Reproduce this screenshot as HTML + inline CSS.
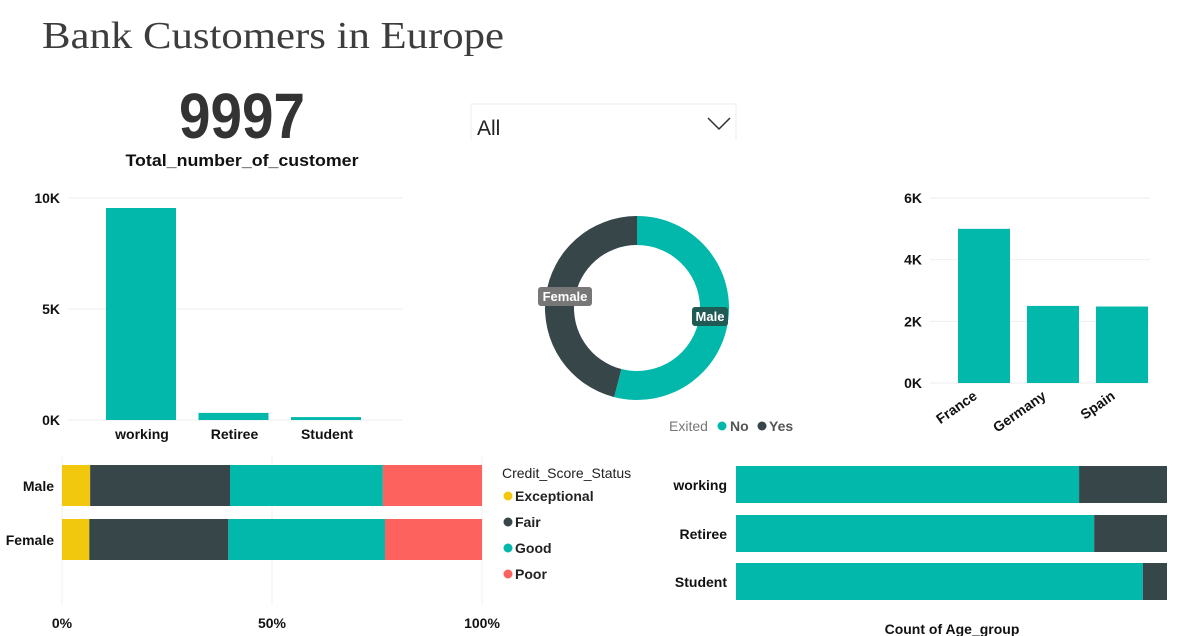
<!DOCTYPE html>
<html><head><meta charset="utf-8"><style>
html,body{margin:0;padding:0;background:#fff;width:1177px;height:636px;overflow:hidden}
svg{display:block;font-family:"Liberation Sans",sans-serif}
.ax{font-size:14px;font-weight:bold;fill:#111}
</style></head><body>
<svg id="s" width="1177" height="636" viewBox="0 0 1177 636">
<text x="42" y="48" font-family="Liberation Serif" font-size="38" fill="#3d3d3d" textLength="462" lengthAdjust="spacingAndGlyphs">Bank Customers in Europe</text>
<text x="242" y="138" text-anchor="middle" font-size="64" font-weight="bold" fill="#333" textLength="126" lengthAdjust="spacingAndGlyphs">9997</text>
<text x="242" y="166" text-anchor="middle" font-size="17" font-weight="bold" fill="#111" textLength="233" lengthAdjust="spacingAndGlyphs">Total_number_of_customer</text>
<g>
<path d="M471 140 V104 H736 V140" fill="none" stroke="#eee" stroke-width="1"/>
<text x="477" y="135" font-size="21" fill="#222">All</text>
<path d="M708 118 L719 129 L730 118" fill="none" stroke="#333" stroke-width="1.5"/>
</g>
<g id="c1"></g>
<g id="c2"></g>
<g id="c3"></g>
<g id="c4"></g>
<g id="c5"></g>
</svg>
<script>
const ageCats=["working","Retiree","Student"];
const ageCounts=[9550,320,130];
const ageTicks=["0K","5K","10K"];
const ageTickVals=[0,5000,10000];
const genders=["Male","Female"];
const genderShare=[54,46];
const countries=["France","Germany","Spain"];
const countryCounts=[5000,2500,2480];
const countryTickVals=[0,2000,4000,6000];
const countryTicks=["0K","2K","4K","6K"];
const creditGenders=["Male","Female"];
const creditStatuses=["Exceptional","Fair","Good","Poor"];
const creditMale=[6.7,33.3,36.4,23.6];
const creditFemale=[6.5,33.1,37.3,23.1];
const pctTicks=["0%","50%","100%"];
const pctTickVals=[0,50,100];
const exitAgeCats=["working","Retiree","Student"];
const exitNo=[79.6,83.1,94.4];
const exitYes=[20.4,16.9,5.6];
const TEAL="#01b8aa",DARK="#374649",YEL="#f2c80f",RED="#fd625e";
const NS="http://www.w3.org/2000/svg";
function mk(p,tag,a,txt){const e=document.createElementNS(NS,tag);for(const k in a)e.setAttribute(k,a[k]);if(txt!==undefined)e.textContent=txt;p.appendChild(e);return e;}

// chart 1
(function(){const g=document.getElementById('c1');
const y=v=>420-v/10000*222;const bx=i=>106+i*92.5;
ageTickVals.forEach((v,i)=>{
const l=mk(g,'line',{x1:68,x2:402,y1:y(v),y2:y(v),stroke:'#eee'});


const t=mk(g,'text',{x:60,y:y(v)+5,'text-anchor':'end',class:'ax'},ageTicks[i]);

});
ageCats.forEach((c,i)=>{
const r=mk(g,'rect',{x:bx(i),y:y(ageCounts[i]),width:70,height:420-y(ageCounts[i]),fill:TEAL});


const t=mk(g,'text',{x:bx(i)+36,y:439,'text-anchor':'middle',class:'ax'},c);

});
})();

// donut
(function(){const g=document.getElementById('c2');const cx=637,cy=308,R=92,r=63;
let a0=0;const cols=[TEAL,DARK];
genderShare.forEach((v,i)=>{const a1=a0+v/100*2*Math.PI;
const p=(rad,a)=>[cx+rad*Math.sin(a),cy-rad*Math.cos(a)];
const [x1,y1]=p(R,a0),[x2,y2]=p(R,a1),[x3,y3]=p(r,a1),[x4,y4]=p(r,a0);const lg=(a1-a0)>Math.PI?1:0;
const s=mk(g,'path',{d:`M${x1} ${y1} A${R} ${R} 0 ${lg} 1 ${x2} ${y2} L${x3} ${y3} A${r} ${r} 0 ${lg} 0 ${x4} ${y4}Z`,fill:cols[i]});


a0=a1;});
const lb=mk(g,'g',{});


mk(lb,'rect',{x:538,y:287,width:54,height:19,rx:3,fill:'#777'});
mk(lb,'text',{x:565,y:301,'text-anchor':'middle','font-size':13,'font-weight':'bold',fill:'#fff'},'Female');
const lm=mk(g,'g',{});


mk(lm,'rect',{x:692,y:307,width:36,height:19,rx:3,fill:'#1f5a55'});
mk(lm,'text',{x:710,y:321,'text-anchor':'middle','font-size':13,'font-weight':'bold',fill:'#fff'},'Male');
const lg=mk(g,'g',{'font-size':14});


mk(lg,'text',{x:669,y:431,fill:'#777'},'Exited');
mk(lg,'circle',{cx:722,cy:426,r:4.5,fill:TEAL});
mk(lg,'text',{x:730,y:431,fill:'#555','font-weight':'bold'},'No');
mk(lg,'circle',{cx:762,cy:426,r:4.5,fill:DARK});
mk(lg,'text',{x:769,y:431,fill:'#555','font-weight':'bold'},'Yes');
})();

// country chart
(function(){const g=document.getElementById('c3');
const y=v=>383-v/6000*185;const bx=i=>958+i*69;
countryTickVals.forEach((v,i)=>{
const l=mk(g,'line',{x1:930,x2:1150,y1:y(v),y2:y(v),stroke:'#eee'});


const t=mk(g,'text',{x:922,y:y(v)+5,'text-anchor':'end',class:'ax'},countryTicks[i]);

});
countries.forEach((c,i)=>{
const r=mk(g,'rect',{x:bx(i),y:y(countryCounts[i]),width:52,height:383-y(countryCounts[i]),fill:TEAL});


const t=mk(g,'text',{x:bx(i)+20,y:398,'text-anchor':'end',class:'ax',transform:`rotate(-35 ${bx(i)+20} 398)`},c);

});
})();

// credit chart
(function(){const g=document.getElementById('c4');
const x=p=>62+p/100*420;const cols=[YEL,DARK,TEAL,RED];const rows=[creditMale,creditFemale];const ys=[465,519];
pctTickVals.forEach((v,i)=>{
const l=mk(g,'line',{x1:x(v),x2:x(v),y1:455,y2:605,stroke:'#f0f0f0'});


const t=mk(g,'text',{x:x(v),y:628,'text-anchor':'middle',class:'ax'},pctTicks[i]);

});
rows.forEach((row,ri)=>{let acc=0;
row.forEach((v,si)=>{
const r=mk(g,'rect',{x:x(acc),y:ys[ri],width:x(acc+v)-x(acc),height:41,fill:cols[si]});


acc+=v;});
const t=mk(g,'text',{x:54,y:ys[ri]+26,'text-anchor':'end',class:'ax'},creditGenders[ri]);

});
const lt=mk(g,'text',{x:502,y:478,'font-size':14,fill:'#222'},'Credit_Score_Status');


creditStatuses.forEach((s,i)=>{const yy=496+i*26;
const e=mk(g,'g',{});


mk(e,'circle',{cx:508,cy:yy,r:4.5,fill:cols[i]});
mk(e,'text',{x:515,y:yy+5,'font-size':14,'font-weight':'bold',fill:'#222'},s);});
})();

// exited by age
(function(){const g=document.getElementById('c5');
const x=p=>736+p/100*431;const ys=[466,515,563];
exitAgeCats.forEach((c,i)=>{
const r1=mk(g,'rect',{x:x(0),y:ys[i],width:x(exitNo[i])-x(0),height:37,fill:TEAL});


const r2=mk(g,'rect',{x:x(exitNo[i]),y:ys[i],width:x(exitNo[i]+exitYes[i])-x(exitNo[i]),height:37,fill:DARK});


const t=mk(g,'text',{x:727,y:ys[i]+24,'text-anchor':'end',class:'ax'},c);

});
const at=mk(g,'text',{x:952,y:634,'text-anchor':'middle',class:'ax'},'Count of Age_group');


})();
</script>
</body></html>
